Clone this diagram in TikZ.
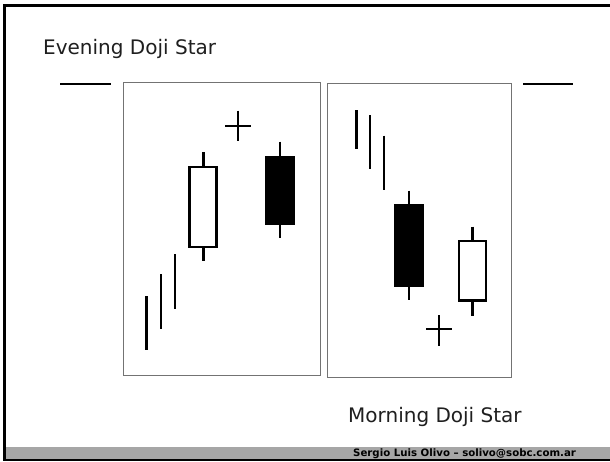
\documentclass[tikz,border=0pt]{standalone}
\usepackage{fontspec}
\setmainfont{DejaVu Sans}
\begin{document}
\begin{tikzpicture}[x=1pt,y=-1pt,
  panel/.style={draw=black!55, line width=0.9pt},
  tickline/.style={line width=2.7pt},
  wick/.style={line width=2.4pt},
  whitebody/.style={draw=black, fill=white, line width=2.4pt},
  blackbody/.style={draw=black, fill=black, line width=1pt},
  doji/.style={line width=1.7pt},
  rulebar/.style={line width=2pt},
  titletext/.style={font=\fontsize{20}{24}\selectfont, text=black!88, anchor=base west, inner sep=0pt},
  foottext/.style={font=\fontsize{10.2}{12}\selectfont\bfseries, anchor=base west, inner sep=0pt}]
\useasboundingbox (0,0) rectangle (610,461);
\fill[white] (0,0) rectangle (610,461);
% footer bar and frame
\fill[black!35] (5,447) rectangle (610,459);
\draw[line width=2.5pt] (610,5.5) -- (4.5,5.5) -- (4.5,460) -- (610,460);
% titles
\node[titletext] (evening) at (43,54) {Evening Doji Star};
\node[titletext] (morning) at (348,422) {Morning Doji Star};
\node[foottext] (footer) at (353,456.3) {Sergio Luis Olivo – solivo@sobc.com.ar};
% horizontal rules
\draw[rulebar] (60,83.5) -- (111,83.5);
\draw[rulebar] (523,83.5) -- (573,83.5);
% panels
\draw[panel] (123,82) rectangle (320,375);
\draw[panel] (327,83) rectangle (511,377);
% --- Evening doji star ---
\draw[tickline] (146.7,296) -- (146.7,350);
\draw[tickline] (161,274) -- (161,329);
\draw[tickline] (175,254) -- (175,309);
\draw[wick] (203.3,152.3) -- (203.3,261);
\draw[whitebody] (189.5,167) rectangle (216.5,247);
\draw[doji] (225,125.7) -- (250.7,125.7);
\draw[doji] (238.3,110.7) -- (238.3,141);
\draw[wick] (280,141.7) -- (280,237.7);
\draw[blackbody] (265.5,156.2) rectangle (294.5,224.5);
% --- Morning doji star ---
\draw[tickline] (356.7,110) -- (356.7,149.3);
\draw[tickline] (370,115) -- (370,169.3);
\draw[tickline] (384,135.7) -- (384,190);
\draw[wick] (409,190.7) -- (409,300);
\draw[blackbody] (394.5,204.5) rectangle (423.5,286.8);
\draw[doji] (426,329.3) -- (452.3,329.3);
\draw[doji] (439.3,315) -- (439.3,346);
\draw[wick] (472.3,226.7) -- (472.3,315.7);
\draw[whitebody] (458.9,241.2) rectangle (486.1,300.5);
\end{tikzpicture}
\end{document}
